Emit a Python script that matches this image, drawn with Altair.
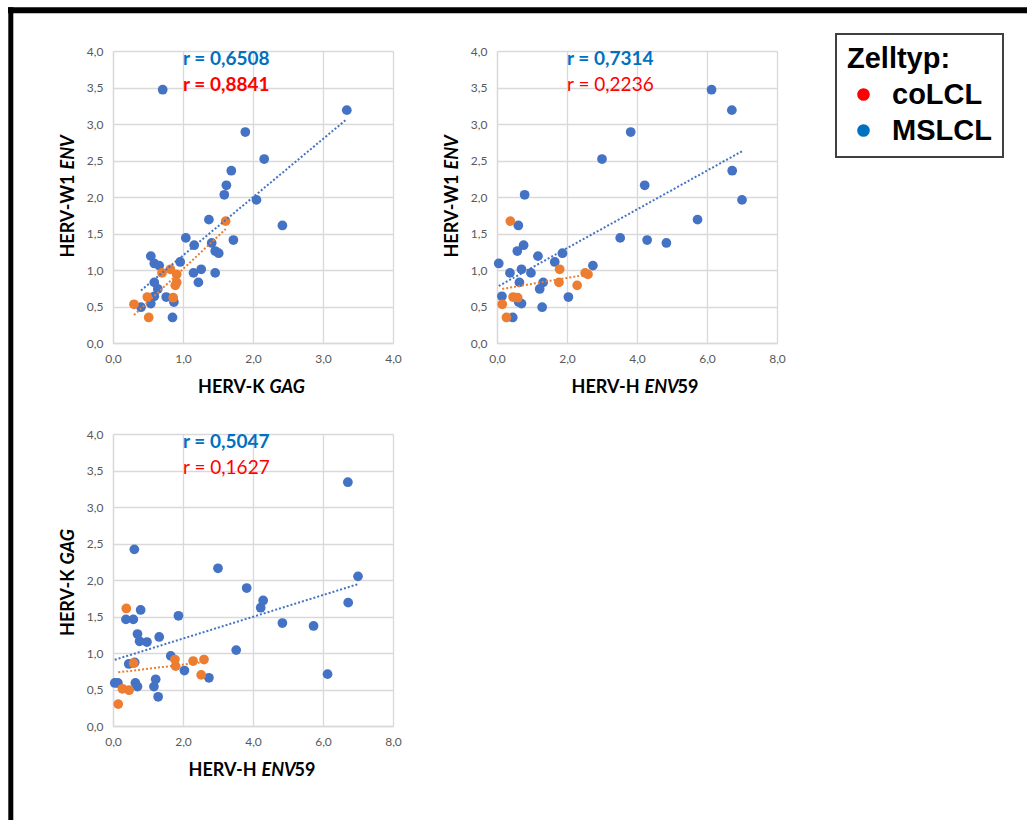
import altair as alt
import pandas as pd

GROUPS = ["coLCL", "MSLCL"]
MARKER_COLORS = ["#ED7D31", "#4472C4"]
LABEL_COLORS = ["#FF0000", "#0070C0"]

# MSLCL samples: HERV-K GAG, HERV-W1 ENV, HERV-H ENV59
ms_gag = [0.71, 3.34, 1.89, 2.16, 1.69, 1.62, 1.59, 2.05, 2.42, 1.37, 1.72, 1.04,
          1.16, 1.41, 1.46, 1.51, 0.96, 0.54, 0.59, 0.66, 1.26, 1.15, 1.46, 1.22,
          0.59, 0.64, 0.59, 0.76, 0.87, 0.54, 0.40, 0.85]
ms_env = [3.47, 3.19, 2.89, 2.52, 2.36, 2.16, 2.03, 1.96, 1.61, 1.69, 1.41, 1.44,
          1.34, 1.37, 1.26, 1.23, 1.11, 1.19, 1.09, 1.06, 1.01, 0.96, 0.96, 0.83,
          0.83, 0.74, 0.64, 0.63, 0.56, 0.54, 0.49, 0.35]
ms_env59 = [6.13, 6.71, 3.82, 3.00, 6.72, 4.22, 0.79, 7.00, 0.61, 5.73, 4.29, 3.52,
            0.76, 4.84, 0.58, 1.87, 1.65, 1.17, 0.05, 2.74, 0.70, 0.97, 0.37, 1.32,
            0.64, 1.22, 0.14, 2.04, 0.62, 0.70, 1.29, 0.45]

# coLCL samples
co_gag = [1.61, 0.70, 0.82, 0.91, 0.91, 0.89, 0.49, 0.86, 0.30, 0.51]
co_env = [1.67, 0.96, 1.01, 0.94, 0.83, 0.79, 0.63, 0.62, 0.53, 0.35]
co_env59 = [0.38, 2.52, 1.79, 2.60, 1.77, 2.29, 0.46, 0.59, 0.15, 0.27]

# correlation coefficients shown in each panel
r_panel = ["p1", "p1", "p2", "p2", "p3", "p3"]
r_group = ["MSLCL", "coLCL", "MSLCL", "coLCL", "MSLCL", "coLCL"]
r_label = ["r = 0,6508", "r = 0,8841", "r = 0,7314", "r = 0,2236", "r = 0,5047", "r = 0,1627"]

rows = []
for g, e, h in zip(ms_gag, ms_env, ms_env59):
    rows.append({"Zelltyp": "MSLCL", "GAG": g, "ENV": e, "ENV59": h})
for g, e, h in zip(co_gag, co_env, co_env59):
    rows.append({"Zelltyp": "coLCL", "GAG": g, "ENV": e, "ENV59": h})
samples = pd.DataFrame(rows)
r_df = pd.DataFrame({"panel": r_panel, "Zelltyp": r_group, "label": r_label})

FONT = "Lato"
W, H = 280, 292
LABEL_EXPR = "replace(format(datum.value, '.1f'), '.', ',')"

legend = alt.Legend(
    title="Zelltyp:", orient="none", legendX=339, legendY=-17,
    titleFont="Liberation Sans", titleFontSize=29, titleFontWeight="bold", titleColor="black",
    titlePadding=6,
    labelFont="Liberation Sans", labelFontSize=29, labelFontWeight="bold", labelColor="black",
    symbolType="circle", symbolSize=160, symbolOffset=2, symbolStrokeWidth=0,
    labelOffset=14, rowPadding=6, padding=11, strokeColor="#404040",
)


def axis(values):
    return alt.Axis(
        values=values, labelExpr=LABEL_EXPR, grid=True, gridColor="#D9D9D9", gridWidth=1.3,
        domainColor="#D9D9D9", domainWidth=1.3, ticks=False, labelColor="#595959",
        labelFont=FONT, labelFontSize=12, labelPadding=10, labelFlush=False, title=None,
    )


def blank():
    return alt.Chart(alt.Data(values=[{}]))


def piece(text, x, y, align, italic=False, angle=0):
    return blank().mark_text(
        text=text, align=align, baseline="alphabetic", angle=angle, font=FONT,
        fontSize=18, fontWeight="bold", fontStyle="italic" if italic else "normal",
        color="black",
    ).encode(x=alt.value(x), y=alt.value(y))


def panel(pid, xfield, yfield, xmax, xvalues, x_title, y_title, co_bold, show_legend=False, frame=False):
    xs = alt.Scale(domain=[0, xmax], nice=False)
    ys = alt.Scale(domain=[0, 4], nice=False)
    x_enc = alt.X(f"{xfield}:Q", scale=xs, axis=axis(xvalues), title=None)
    y_enc = alt.Y(f"{yfield}:Q", scale=ys, axis=axis([i * 0.5 for i in range(9)]), title=None)
    base = alt.Chart(samples)
    pts = base.mark_circle(size=95, opacity=1).encode(
        x=x_enc, y=y_enc,
        fill=alt.Fill("Zelltyp:N", scale=alt.Scale(domain=GROUPS, range=MARKER_COLORS), legend=None),
    )
    trend = base.transform_regression(xfield, yfield, groupby=["Zelltyp"]).mark_line(
        strokeDash=[2, 2], strokeWidth=2
    ).encode(
        x=x_enc, y=y_enc,
        stroke=alt.Stroke("Zelltyp:N", scale=alt.Scale(domain=GROUPS, range=MARKER_COLORS), legend=None),
    )
    color = alt.Color("Zelltyp:N", scale=alt.Scale(domain=GROUPS, range=LABEL_COLORS),
                      legend=legend if show_legend else None)
    r_ms = alt.Chart(r_df).transform_filter(
        f"datum.panel == '{pid}' && datum.Zelltyp == 'MSLCL'"
    ).mark_text(align="left", baseline="middle", font=FONT, fontSize=19, fontWeight="bold").encode(
        x=alt.value(70), y=alt.value(8), text="label:N", color=color
    )
    r_co = alt.Chart(r_df).transform_filter(
        f"datum.panel == '{pid}' && datum.Zelltyp == 'coLCL'"
    ).mark_text(align="left", baseline="middle", font=FONT, fontSize=19,
                fontWeight="bold" if co_bold else "normal").encode(
        x=alt.value(70), y=alt.value(34), text="label:N", color=color
    )
    layers = [pts, trend, r_ms, r_co]
    # axis titles with italic gene names
    xj, parts = x_title
    layers.append(piece(parts[0], xj - 2.5, 342, "right"))
    layers.append(piece(parts[1], xj + 2.5, 342, "left", italic=True))
    if len(parts) > 2:
        layers.append(piece(parts[2], xj + 2.5 + parts[3], 342, "left"))
    yj, yparts = y_title
    layers.append(piece(yparts[0], -39, yj + 2.5, "right", angle=270))
    layers.append(piece(yparts[1], -39, yj - 2.5, "left", italic=True, angle=270))
    if frame:
        layers.append(blank().mark_rule(color="black", strokeWidth=6).encode(
            x=alt.value(-105), x2=alt.value(914), y=alt.value(-40.7)))
        layers.append(blank().mark_rule(color="black", strokeWidth=5).encode(
            x=alt.value(-102.2), y=alt.value(-43.7), y2=alt.value(769)))
    return alt.layer(*layers).properties(width=W, height=H)


p1 = panel("p1", "GAG", "ENV", 4, [0, 1, 2, 3, 4],
           (154, ["HERV-K", "GAG"]), (121, ["HERV-W1", "ENV"]), True, frame=True)
p2 = panel("p2", "ENV59", "ENV", 8, [0, 2, 4, 6, 8],
           (145, ["HERV-H", "ENV", "59", 33]), (121, ["HERV-W1", "ENV"]), False, show_legend=True)
p3 = panel("p3", "ENV59", "GAG", 8, [0, 2, 4, 6, 8],
           (146, ["HERV-H", "ENV", "59", 33]), (133, ["HERV-K", "GAG"]), False)

chart = alt.concat(
    p1, p2, p3, columns=2, spacing={"row": 91, "column": 104}, bounds="flush"
).resolve_scale(color="independent").resolve_legend(color="independent").properties(
    autosize=alt.AutoSizeParams(type="none"),
    padding={"left": 113, "top": 51, "right": 914, "bottom": 769},
).configure_view(stroke=None).configure_legend(strokeWidth=2)

chart.save("out.html", embed_options={"renderer": "svg", "actions": False})
